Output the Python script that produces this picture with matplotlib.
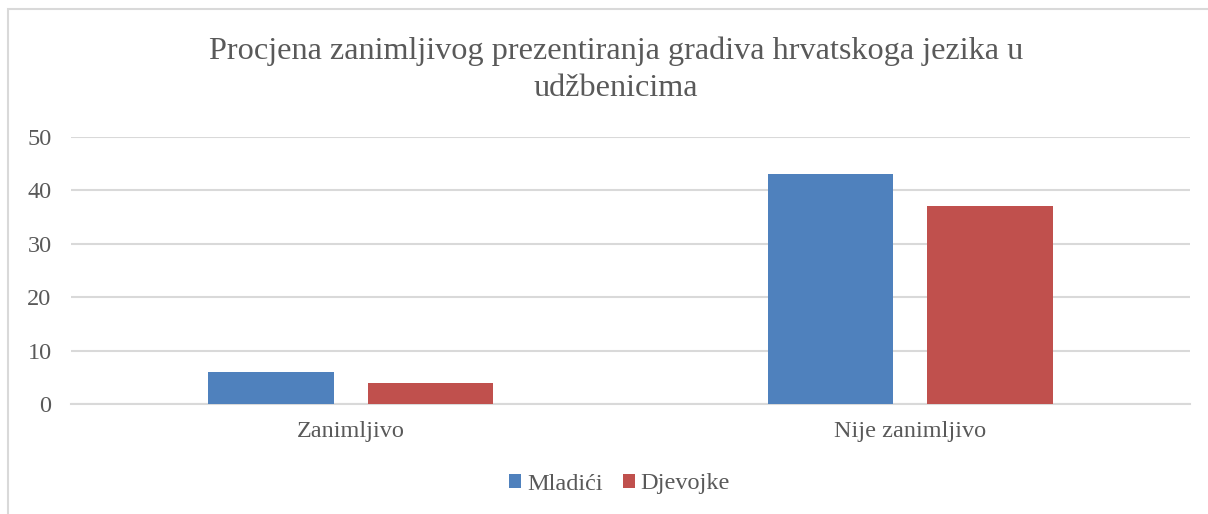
import matplotlib
matplotlib.use("Agg")
import matplotlib.pyplot as plt
import numpy as np
from matplotlib.patches import Rectangle

categories = ["Zanimljivo", "Nije zanimljivo"]
series_names = ["Mladići", "Djevojke"]
mladici = [6, 43]
djevojke = [4, 37]
yticks = [0, 10, 20, 30, 40, 50]
title = "Procjena zanimljivog prezentiranja gradiva hrvatskoga jezika u\nudžbenicima"

colors = ["#4F81BD", "#C0504D"]
text_color = "#595959"
grid_color = "#D9D9D9"

plt.rcParams['font.family'] = ['Liberation Serif']

fig = plt.figure(figsize=(12.08, 5.14), dpi=100)
# chart frame (partially cropped)
fig.patches.append(Rectangle((8/1208, -0.1), 1.2, (1 - 9/514) + 0.1, transform=fig.transFigure,
                             fill=False, edgecolor="#D9D9D9", linewidth=1.5, zorder=0))

ax = fig.add_axes([71/1208, 1 - 404/514, (1190 - 71)/1208, (404 - 137)/514])
x = np.arange(len(categories))
w = 0.2235
off = 0.1425
ax.bar(x - off, mladici, w, color=colors[0], label=series_names[0], zorder=3)
ax.bar(x + off, djevojke, w, color=colors[1], label=series_names[1], zorder=3)

ax.set_xlim(-0.5, 1.5)
ax.set_ylim(0, 50)
ax.set_yticks(yticks)
ax.set_xticks(x)
ax.set_xticklabels(categories)
ax.yaxis.grid(True, color=grid_color, linewidth=1.5, zorder=0)
ax.set_axisbelow(True)
for s in ["top", "right", "left"]:
    ax.spines[s].set_visible(False)
ax.spines["bottom"].set_color(grid_color)
ax.spines["bottom"].set_linewidth(1.5)
ax.tick_params(axis="both", length=0, labelsize=17.5, colors=text_color)
ax.tick_params(axis="y", pad=14)
ax.tick_params(axis="x", pad=12)

fig.text(0.51, 1 - 36/514, title, ha="center", va="top", fontsize=23.2,
         color=text_color, linespacing=1.38)

leg = fig.legend(loc="center", bbox_to_anchor=(0.513, 1 - 484/514), ncol=2, frameon=False,
                 fontsize=17.5, handlelength=0.5, handleheight=0.5, handletextpad=0.25,
                 columnspacing=0.8, labelcolor=text_color)

fig.savefig("out.png", dpi=100, facecolor="white")
